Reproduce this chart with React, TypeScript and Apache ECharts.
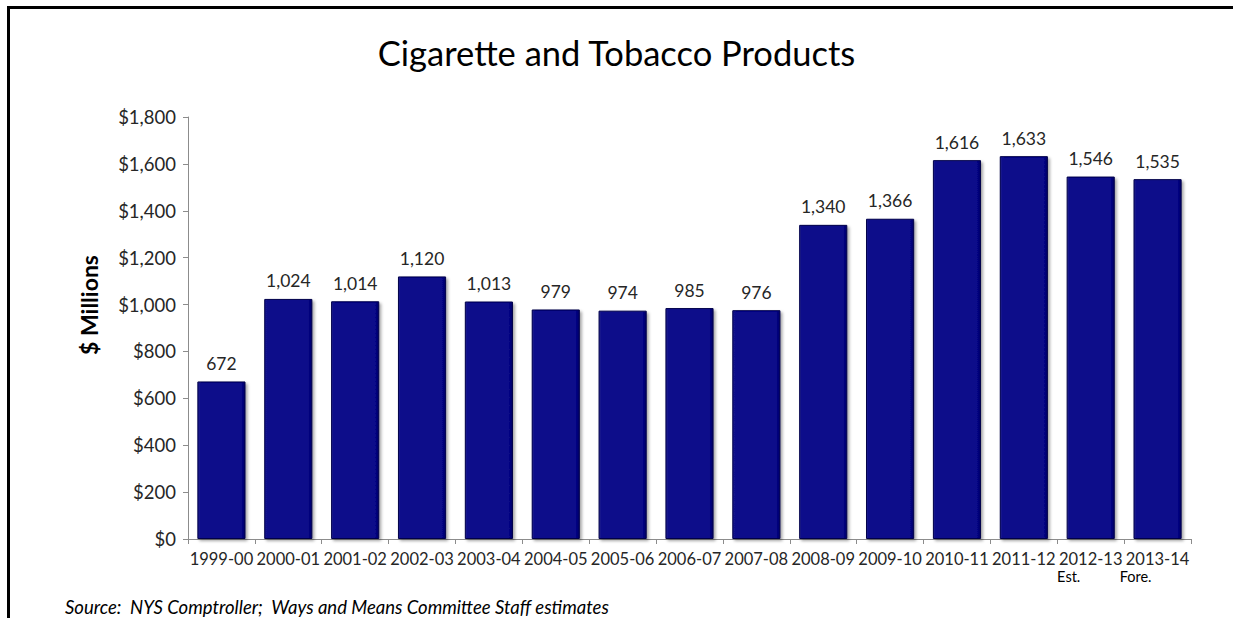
import React, { useEffect, useRef } from "react";
import * as echarts from "echarts";

const title = "Cigarette and Tobacco Products";
const yAxisName = "$ Millions";
const sourceNote = "Source:  NYS Comptroller;  Ways and Means Committee Staff estimates";

const fiscalYears = [
  "1999-00", "2000-01", "2001-02", "2002-03", "2003-04", "2004-05", "2005-06", "2006-07",
  "2007-08", "2008-09", "2009-10", "2010-11", "2011-12", "2012-13", "2013-14",
];
const yearNotes = ["", "", "", "", "", "", "", "", "", "", "", "", "", "Est.", "Fore."];
const revenue = [672, 1024, 1014, 1120, 1013, 979, 974, 985, 976, 1340, 1366, 1616, 1633, 1546, 1535];

const FONT = "Lato, 'Noto Sans', sans-serif";

export default function App() {
  const ref = useRef<HTMLDivElement>(null);

  useEffect(() => {
    document.documentElement.style.overflow = "hidden";
    document.body.style.margin = "0";
    document.body.style.overflow = "hidden";
    const chart = echarts.init(ref.current!, null, { renderer: "svg" });
    chart.setOption({
      animation: false,
      backgroundColor: "#ffffff",
      textStyle: { fontFamily: FONT },
      title: {
        text: title,
        left: "center",
        top: 30,
        textStyle: { fontFamily: FONT, fontSize: 34.5, fontWeight: "normal", color: "#000" },
      },
      grid: { left: 188, right: 42, top: 117, bottom: 79 },
      xAxis: {
        type: "category",
        data: fiscalYears,
        axisLine: { lineStyle: { color: "#8c8c8c", width: 1 } },
        axisTick: { show: true, length: 5, lineStyle: { color: "#8c8c8c" } },
        axisLabel: {
          interval: 0,
          margin: 10,
          fontSize: 16.5,
          lineHeight: 19,
          color: "#262626",
          fontFamily: FONT,
          formatter: (v: string, i: number) =>
            yearNotes[i] ? `${v}\n{n|${yearNotes[i]}}` : v,
          rich: {
            n: { fontSize: 14.5, lineHeight: 16, color: "#000", fontFamily: FONT, padding: [0, 44, 0, 0] },
          },
        },
      },
      yAxis: {
        type: "value",
        min: 0,
        max: 1800,
        interval: 200,
        name: yAxisName,
        nameLocation: "middle",
        nameGap: 88,
        nameRotate: 90,
        nameTextStyle: {
          fontFamily: FONT,
          fontSize: 23,
          fontWeight: "bold",
          color: "#000",
          padding: [0, 0, 0, 46],
        },
        axisLine: { show: true, lineStyle: { color: "#8c8c8c", width: 1 } },
        axisTick: { show: true, length: 5, lineStyle: { color: "#8c8c8c" } },
        splitLine: { show: false },
        axisLabel: {
          margin: 12,
          fontSize: 18.5,
          color: "#262626",
          fontFamily: FONT,
          formatter: (v: number) => "$" + v.toLocaleString("en-US"),
        },
      },
      series: [
        {
          type: "bar",
          data: revenue,
          barCategoryGap: "28%",
          itemStyle: {
            color: new echarts.graphic.LinearGradient(0, 0, 1, 0, [
              { offset: 0, color: "#1a1a8c" },
              { offset: 0.08, color: "#08088a" },
              { offset: 0.92, color: "#08088a" },
              { offset: 1, color: "#000066" },
            ]),
            borderColor: "#00004a",
            borderWidth: 1,
            shadowColor: "rgba(0,0,0,0.35)",
            shadowBlur: 3,
            shadowOffsetX: 2,
            shadowOffsetY: 2,
          },
          label: {
            show: true,
            position: "top",
            distance: 9,
            fontSize: 17.5,
            color: "#262626",
            fontFamily: FONT,
            formatter: (p: any) => Number(p.value).toLocaleString("en-US"),
          },
        },
      ],
      graphic: [
        {
          type: "text",
          left: 65,
          top: 597,
          style: {
            text: sourceNote,
            fontFamily: FONT,
            fontSize: 18.5,
            fontStyle: "italic",
            fill: "#000",
          },
        },
      ],
    });
    return () => chart.dispose();
  }, []);

  return (
    <div style={{ position: "fixed", left: 0, top: 0, width: 1233, height: 618, overflow: "hidden", background: "#fff" }}>
      <div ref={ref} style={{ position: "absolute", left: 0, top: 0, width: 1233, height: 618 }} />
      {/* frame: thick rule along the top and down the left side */}
      <div style={{ position: "absolute", left: 7, top: 6, width: 3, height: 612, background: "#000" }} />
      <div style={{ position: "absolute", left: 7, top: 6, width: 1226, height: 3, background: "#000" }} />
    </div>
  );
}
